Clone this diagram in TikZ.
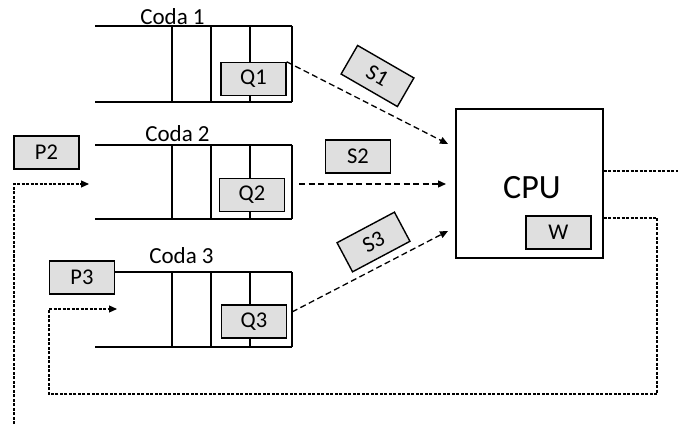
\documentclass[tikz,border=0pt]{standalone}
\usepackage{fontspec}
\setmainfont{Carlito}
\usetikzlibrary{arrows.meta}
\definecolor{boxgray}{HTML}{DFDFDF}
\begin{document}
\begin{tikzpicture}[x=1pt,y=-1pt,
  qline/.style={line width=1.5pt},
  lbox/.style={draw, line width=1.4pt, fill=boxgray, minimum width=65pt, minimum height=33pt, inner sep=0pt, font=\fontsize{22.5}{26}\selectfont},
  title/.style={anchor=base, inner sep=0pt, font=\fontsize{23}{27}\selectfont},
  sarrow/.style={line width=1.3pt, dash pattern=on 6pt off 3.5pt, -{Triangle[length=8pt,width=7pt]}},
  fbline/.style={line width=1.1pt, dash pattern=on 3pt off 1.5pt},
  fbarrow/.style={fbline, -{Triangle[length=8pt,width=7pt]}}
]
\useasboundingbox (0,0) rectangle (678,425);
% queue 1
\draw[qline] (95,26) -- (292,26) (95,102) -- (292,102);
\foreach \x in {172,211,250,292} \draw[qline] (\x,26) -- (\x,102);
% queue 2
\draw[qline] (95,145) -- (292,145) (95,219) -- (292,219);
\foreach \x in {172,211,250,292} \draw[qline] (\x,145) -- (\x,219);
% queue 3
\draw[qline] (115,272) -- (292,272) (95,347) -- (292,347);
\foreach \x in {172,211,250,292} \draw[qline] (\x,272) -- (\x,347);

\node[title] (c1) at (172.5,25) {Coda 1};
\node[title] (c2) at (177.5,141.5) {Coda 2};
\node[title] (c3) at (181.5,263) {Coda 3};

\node[lbox] (Q1) at (253.5,79) {Q1};
\node[lbox] (Q2) at (252,195) {Q2};
\node[lbox] (Q3) at (254,321.5) {Q3};
\node[lbox] (P2) at (46.5,152.5) {P2};
\node[lbox] (P3) at (82,277.5) {P3};

\node[draw, line width=1.4pt, minimum width=147pt, minimum height=149pt, inner sep=0pt] (CPU) at (529.5,183.5) {};
\node[anchor=base, inner sep=0pt, font=\fontsize{34}{40}\selectfont] (cpulabel) at (532,198.5) {CPU};
\node[lbox] (W) at (558.5,232.5) {W};

\node[lbox, rotate=-30] (S1) at (377.5,76) {S1};
\node[lbox] (S2) at (358,156.5) {S2};
\node[lbox, rotate=28] (S3) at (373.5,242) {S3};

\coordinate (t1) at (448,144);
\coordinate (s2a) at (299,184);
\coordinate (t2) at (446,184);
\coordinate (s3a) at (292,312);
\coordinate (t3) at (448,231);
\draw[sarrow] (Q1.north east) -- (t1);
\draw[sarrow] (s2a) -- (t2);
\draw[sarrow] (s3a) -- (t3);

% output
\coordinate (outA) at (603.5,171);
\coordinate (outB) at (678,171);
\draw[fbline] (outA) -- (outB);

% feedback
\coordinate (fbA) at (603.5,218);
\coordinate (fbB) at (657,394);
\coordinate (fbC) at (49,309);
\coordinate (fbD) at (117,309);
\draw[fbarrow] (fbA) -| (fbB) -| (fbC) -- (fbD);

\coordinate (p2A) at (14,424);
\coordinate (p2B) at (89,184);
\draw[fbarrow] (p2A) |- (p2B);
\end{tikzpicture}
\end{document}
